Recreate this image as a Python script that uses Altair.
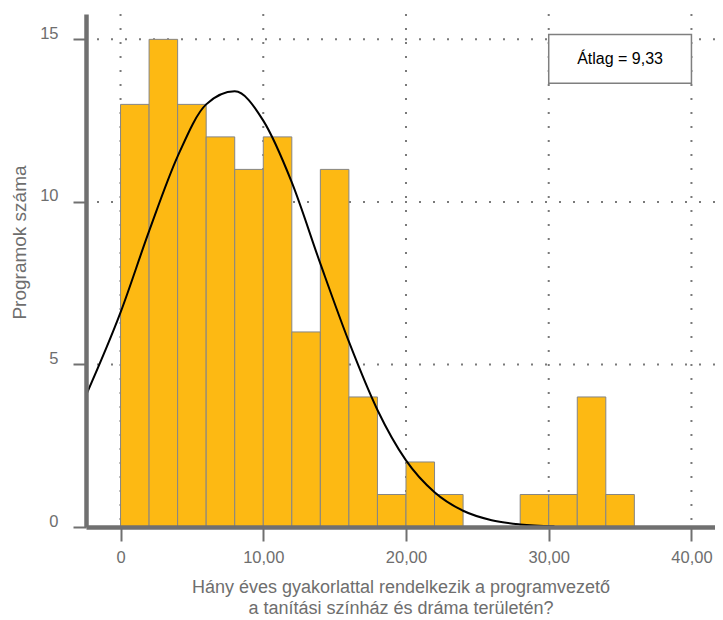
import altair as alt
import pandas as pd

# Histogram bins (years of practice) and counts
bin_start = [0, 2, 4, 6, 8, 10, 12, 14, 16, 18, 20, 22, 24, 26, 28, 30, 32, 34]
bin_end = [2, 4, 6, 8, 10, 12, 14, 16, 18, 20, 22, 24, 26, 28, 30, 32, 34, 36]
counts = [13, 15, 13, 12, 11, 12, 6, 11, 4, 1, 2, 1, 0, 0, 1, 1, 4, 1]

# Normal curve, points
curve_x = [-2.42, 0, 2, 4, 6, 8, 10, 12, 14, 16, 18, 20, 22, 24, 26, 28, 30.4]
curve_y = [4.05, 6.6, 9.1, 11.4, 13.0, 13.4, 12.5, 10.6, 8.1, 5.7, 3.6, 2.05, 1.07, 0.5, 0.21, 0.08, 0.02]

x_ticks = [0, 10, 20, 30, 40]
y_ticks = [0, 5, 10, 15]
x_grid = [0, 10, 20, 30, 40]
y_grid = [5, 10, 15]

mean_label = "Átlag = 9,33"
box_x = [30]
box_x2 = [40]
box_y = [13.65]
box_y2 = [15.15]

x_title = ["Hány éves gyakorlattal rendelkezik a programvezető",
           "a tanítási színház és dráma területén?"]
y_title = "Programok száma"

FONT = "Liberation Sans"
AX = "#707070"
TXT = "#6e6e6e"

bars = pd.DataFrame({"x": bin_start, "x2": bin_end, "y": counts})
bars = bars[bars["y"] > 0]
curve = pd.DataFrame({"x": curve_x, "y": curve_y})
vgrid = pd.DataFrame({"x": x_grid})
hgrid = pd.DataFrame({"y": y_grid})
box = pd.DataFrame({"x": box_x, "x2": box_x2, "y": box_y, "y2": box_y2,
                    "tx": [(box_x[0] + box_x2[0]) / 2], "ty": [(box_y[0] + box_y2[0]) / 2],
                    "label": [mean_label]})

xscale = alt.Scale(domain=[-2.42, 41.65], nice=False, zero=False)
yscale = alt.Scale(domain=[0, 15.78], nice=False, zero=True)

xaxis = alt.Axis(
    values=x_ticks,
    labelExpr="datum.value == 0 ? '0' : replace(format(datum.value, '.2f'), '.', ',')",
    title=x_title, grid=False,
    domainColor=AX, domainWidth=4.5, tickColor=AX, tickWidth=2, tickSize=14,
    labelFont=FONT, labelFontSize=16.5, labelColor=TXT, labelPadding=8, labelFlush=False,
    titleFont=FONT, titleFontSize=18, titleColor=TXT, titleFontWeight="normal",
    titleLineHeight=21, titleBaseline="top", titleY=51, zindex=1,
)
yaxis = alt.Axis(
    values=y_ticks, format="d", title=y_title, grid=False,
    domainColor=AX, domainWidth=4.5, tickColor=AX, tickWidth=2, tickSize=13,
    labelFont=FONT, labelFontSize=16.5, labelColor=TXT, labelPadding=15, labelOffset=-6,
    titleFont=FONT, titleFontSize=19, titleColor=TXT, titleFontWeight="normal",
    titleAngle=270, titleBaseline="middle", titleAlign="center", titleX=-67, titleY=228,
    zindex=1,
)

grid_v = alt.Chart(vgrid).mark_rule(color="#7a7a7a", strokeWidth=2, strokeDash=[2, 12]).encode(
    x=alt.X("x:Q", scale=xscale, axis=xaxis)
)
grid_h = alt.Chart(hgrid).mark_rule(color="#7a7a7a", strokeWidth=2, strokeDash=[2, 12]).encode(
    y=alt.Y("y:Q", scale=yscale, axis=yaxis)
)
bar_layer = alt.Chart(bars).mark_rect(color="#FDB913", stroke="#858585", strokeWidth=1).encode(
    x=alt.X("x:Q", scale=xscale, axis=xaxis),
    x2="x2:Q",
    y=alt.Y("y:Q", scale=yscale, axis=yaxis),
    y2=alt.datum(0),
)
line_layer = alt.Chart(curve).mark_line(color="black", strokeWidth=2, interpolate="monotone").encode(
    x=alt.X("x:Q", scale=xscale, axis=xaxis),
    y=alt.Y("y:Q", scale=yscale, axis=yaxis),
)
box_layer = alt.Chart(box).mark_rect(fill="white", stroke="#7f7f7f", strokeWidth=1.5).encode(
    x=alt.X("x:Q", scale=xscale, axis=xaxis),
    x2="x2:Q",
    y=alt.Y("y:Q", scale=yscale, axis=yaxis),
    y2="y2:Q",
)
box_text = alt.Chart(box).mark_text(font=FONT, fontSize=16, color="black").encode(
    x=alt.X("tx:Q", scale=xscale, axis=xaxis),
    y=alt.Y("ty:Q", scale=yscale, axis=yaxis),
    text="label:N",
)

chart = alt.layer(grid_v, grid_h, bar_layer, line_layer, box_layer, box_text).properties(
    width=629, height=513,
    autosize=alt.AutoSizeParams(type="none"),
    padding={"left": 78, "top": 6, "right": 0, "bottom": 93},
    background="white",
).configure_view(stroke=None)

chart.save("out.html", embed_options={"renderer": "svg", "actions": False})
